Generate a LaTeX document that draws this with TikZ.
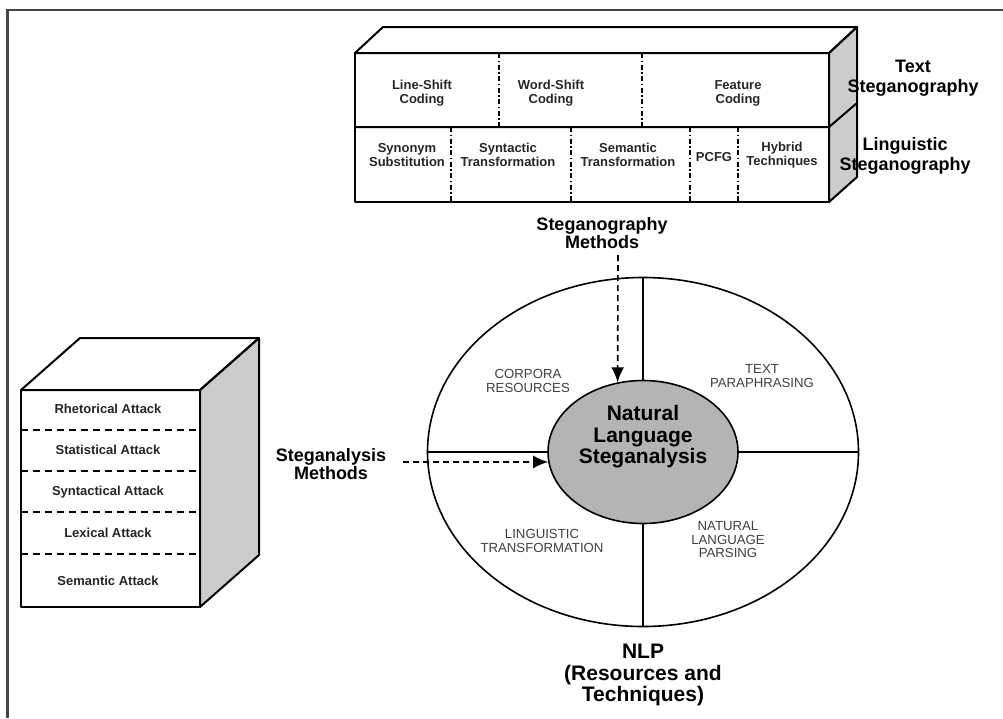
\documentclass[tikz,border=0pt]{standalone}
\usepackage{fontspec}
\setmainfont{Liberation Sans}
\usetikzlibrary{shapes.geometric,arrows.meta,positioning}
\definecolor{sidegray}{RGB}{204,204,204}
\definecolor{coregray}{RGB}{180,180,180}
\definecolor{framegray}{RGB}{70,70,70}

\begin{document}
\begin{tikzpicture}[
x=1pt,y=-1pt,
box/.style={
  line width=2pt,
  line join=round
},
side/.style={
  box,
  fill=sidegray
},
celldiv/.style={
  line width=1.5pt,
  dash pattern=on 5pt off 2.5pt on 1.5pt off 2.5pt
},
rowdiv/.style={
  line width=1.5pt,
  dash pattern=on 7pt off 5pt
},
cell/.style={
  font=\bfseries\fontsize{13}{14}\selectfont,
  align=center,
  text=black!85
},
biglbl/.style={
  font=\bfseries\fontsize{18}{20}\selectfont,
  align=center
},
methlbl/.style={
  font=\bfseries\fontsize{18}{18}\selectfont,
  align=center
},
seglbl/.style={
  font=\fontsize{13.2}{13.5}\selectfont,
  align=center,
  text=black!75
},
corelbl/.style={
  font=\bfseries\fontsize{21}{21.5}\selectfont,
  align=center
},
dasharrow/.style={
  line width=1.6pt,
  dash pattern=on 6pt off 4pt,
  -{Latex[length=15pt,width=13pt]}
}
]
\useasboundingbox (0,0) rectangle (1003,718);
\draw[line width=2.2pt,framegray] (1003,10) -- (7.5,10) -- (7.5,718);

% text / linguistic steganography block
\draw[side] (829,53) -- (857,27) -- (857,177) -- (829,202) -- cycle;
\draw[box] (355,53) -- (383,27) -- (857,27) -- (829,53) -- cycle;
\draw[box] (355,53) rectangle (829,202);
\draw[box] (355,127) -- (829,127) -- (857,103);
\foreach \x in {499,642}
  \draw[celldiv] (\x,53) -- (\x,127);
\foreach \x in {451,571,690,738}
  \draw[celldiv] (\x,127) -- (\x,202);

\node[cell] (lsc) at (422,93) {Line-Shift\\Coding};
\node[cell] (wsc) at (551,93) {Word-Shift\\Coding};
\node[cell] (fc) at (738,93) {Feature\\Coding};
\node[cell] (ss) at (407,155) {Synonym\\Substitution};
\node[cell] (st) at (508,155) {Syntactic\\Transformation};
\node[cell] (smt) at (628,155) {Semantic\\Transformation};
\node[cell] (pcfg) at (714,157) {PCFG};
\node[cell] (ht) at (782,155) {Hybrid\\Techniques};

\node[biglbl] (textsteg) at (913,78) {Text\\Steganography};
\node[biglbl] (lingsteg) at (905,156) {Linguistic\\Steganography};

% steganalysis attacks block
\draw[side] (200,390) -- (259,338) -- (259,555) -- (200,607) -- cycle;
\draw[box] (21,390) -- (80,338) -- (259,338) -- (200,390) -- cycle;
\draw[box] (21,390) rectangle (200,607);
\foreach \y in {430,471,512,554}
  \draw[rowdiv] (21,\y) -- (200,\y);
\foreach \y/\t [count=\i] in {409/Rhetorical Attack,450/Statistical Attack,
  492/Syntactical Attack,533/Lexical Attack,581/Semantic Attack}
  \node[cell] (atk\i) at (108,\y) {\t};

% NLP ellipse
\node[draw,ellipse,line width=1.6pt,inner sep=0pt,
  minimum width=431pt,minimum height=349pt] (nlp) at (643,452) {};
\node[draw,ellipse,line width=1.6pt,inner sep=0pt,fill=coregray,
  minimum width=190pt,minimum height=143pt] (nls) at (643,452) {};
\node[corelbl] (nlslbl) at (643,437) {Natural\\Language\\Steganalysis};

\draw[line width=1.6pt] (nlp.north) -- (nls.north);
\draw[line width=1.6pt] (nlp.south) -- (nls.south);
\draw[line width=1.6pt] (nlp.west) -- (nls.west);
\draw[line width=1.6pt] (nlp.east) -- (nls.east);

\node[seglbl] (corp) at (528,381) {CORPORA\\RESOURCES};
\node[seglbl] (para) at (762,376) {TEXT\\PARAPHRASING};
\node[seglbl] (ltrans) at (542,541) {LINGUISTIC\\TRANSFORMATION};
\node[seglbl] (parse) at (728,540) {NATURAL\\LANGUAGE\\PARSING};

\node[corelbl] (nlplbl) at (643,675) {NLP\\(Resources and\\Techniques)};

% methods and arrows
\node[methlbl] (stegm) at (602,233) {Steganography\\Methods};
\node[methlbl] (anam) at (331,464) {Steganalysis\\Methods};
\coordinate (stegtail) at (618,255);
\coordinate (anatail) at (403,462);
\draw[dasharrow] (stegtail) -- (nls.110);
\draw[dasharrow] (anatail) -- (nls.186);
\end{tikzpicture}
\end{document}
